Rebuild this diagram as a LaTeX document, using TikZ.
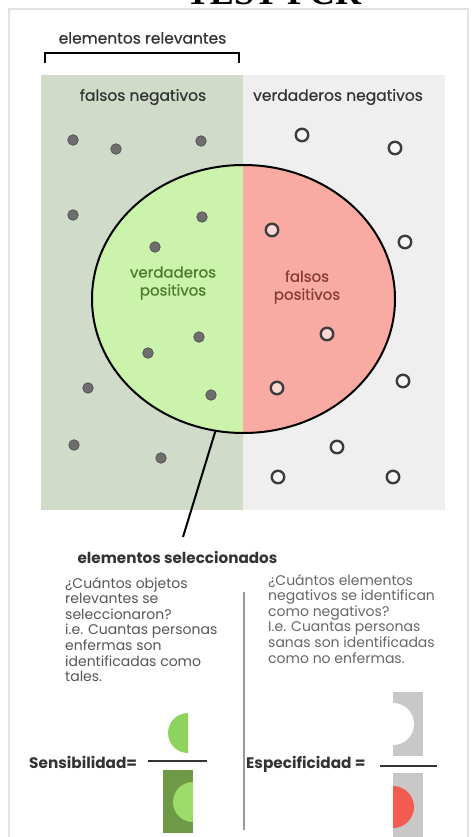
\documentclass[tikz,border=0pt]{standalone}
\usepackage{fontspec}
\setmainfont{Poppins}
\newfontfamily\lblfont[FakeBold=0.6]{Poppins}
\newfontfamily\titlefont{Liberation Serif}
\usetikzlibrary{shapes.geometric}
\definecolor{framec}{HTML}{E2E2E2}
\definecolor{greenpanel}{HTML}{D0DCC9}
\definecolor{graypanel}{HTML}{EFEFEF}
\definecolor{tpgreen}{HTML}{CCF3AC}
\definecolor{fppink}{HTML}{F9AAA3}
\definecolor{dotc}{HTML}{6E6E6E}
\definecolor{dotring}{HTML}{555555}
\definecolor{ringc}{HTML}{3C3C3C}
\definecolor{txtdark}{HTML}{333333}
\definecolor{txtgreen}{HTML}{4C7A2C}
\definecolor{txtred}{HTML}{8A3A35}
\definecolor{qtxt}{HTML}{555555}
\definecolor{qtxtr}{HTML}{666666}
\definecolor{numgreen}{HTML}{8ED35E}
\definecolor{dengreen}{HTML}{6E9A48}
\definecolor{ingreen}{HTML}{9CDC6A}
\definecolor{rectgray}{HTML}{C8C8C8}
\definecolor{redhalf}{HTML}{F25C50}
\tikzset{
  fdot/.style={circle, fill=dotc, draw=dotring, line width=0.8pt, minimum size=10.5pt, inner sep=0pt},
  odot/.style={circle, fill=white, fill opacity=0.55, draw=ringc, draw opacity=1, line width=2.4pt, minimum size=12.5pt, inner sep=0pt},
  lbl/.style={font=\lblfont\fontsize{15.5}{18}\selectfont, text=txtdark, inner sep=0pt},
  qtext/.style={font=\fontsize{14}{15.6}\selectfont, align=left, inner sep=0pt, anchor=north west},
  eqlbl/.style={font=\bfseries\fontsize{15.3}{17}\selectfont, text=txtdark, inner sep=0pt, anchor=west},
  fracline/.style={line width=1.6pt, draw=txtdark},
}
\begin{document}
\begin{tikzpicture}[x=1pt,y=-1pt]
\useasboundingbox (0,0) rectangle (472,837);
% frame
\draw[framec, line width=2pt] (9,9) rectangle (468,850);
% title
\node[anchor=base, font=\titlefont\bfseries\fontsize{36}{36}\selectfont, inner sep=0pt] (title) at (273.5,5) {TEST PCR};
% bracket
\node[lbl] (relev) at (142.5,38) {elementos relevantes};
\draw[line width=2pt, black] (45,63) -- (45,53) -- (239,53) -- (239,63);
% panels
\fill[greenpanel] (41,75) rectangle (243,510);
\fill[graypanel] (243,75) rectangle (445,510);
\node[lbl] (fn) at (143,97) {falsos negativos};
\node[lbl] (vn) at (338,97) {verdaderos negativos};
% ellipse
\begin{scope}
  \clip (243.5,299) ellipse[x radius=151.5, y radius=134];
  \fill[tpgreen] (80,150) rectangle (243,450);
  \fill[fppink] (243,150) rectangle (410,450);
\end{scope}
\node[ellipse, minimum width=303pt, minimum height=268pt, inner sep=0pt, outer sep=0pt, draw=black, line width=2pt] (sel) at (243.5,299) {};
\node[lbl, text=txtgreen, align=center, font=\lblfont\fontsize{15}{18}\selectfont] (vp) at (173,283) {verdaderos\\positivos};
\node[lbl, text=txtred, align=center, font=\lblfont\fontsize{15}{18}\selectfont] (fp) at (307,287) {falsos\\positivos};
% filled dots
\node[fdot] (d1) at (73,140) {};
\node[fdot] (d2) at (116,149) {};
\node[fdot] (d3) at (201,141) {};
\node[fdot] (d4) at (73,215) {};
\node[fdot] (d5) at (202,217) {};
\node[fdot] (d6) at (155,247) {};
\node[fdot] (d7) at (199,337) {};
\node[fdot] (d8) at (148,353) {};
\node[fdot] (d9) at (88,388) {};
\node[fdot] (d10) at (211,395) {};
\node[fdot] (d11) at (74,445) {};
\node[fdot] (d12) at (161,458) {};
% open circles
\node[odot] (o1) at (302,135) {};
\node[odot] (o2) at (395,148) {};
\node[odot] (o3) at (272,230) {};
\node[odot] (o4) at (405,242) {};
\node[odot] (o5) at (327,334) {};
\node[odot] (o6) at (277,388) {};
\node[odot] (o7) at (403,381) {};
\node[odot] (o8) at (337,447) {};
\node[odot] (o9) at (278,477) {};
\node[odot] (o10) at (393,477) {};
% selected label
\node[font=\bfseries\fontsize{15.2}{17}\selectfont, text=txtdark, inner sep=0pt] (lsel) at (177.5,557) {elementos seleccionados};
\coordinate (selend) at (183,537);
\draw[line width=2pt, black] (sel.258) -- (selend);
% questions
\node[qtext, text=qtxt] (q1) at (65,577) {¿Cuántos objetos\\relevantes se\\seleccionaron?\\i.e. Cuantas personas\\enfermas son\\identificadas como\\tales.};
\node[qtext, text=qtxtr] (q2) at (268,574) {¿Cuántos elementos\\negativos se identifican\\como negativos?\\I.e. Cuantas personas\\sanas son identificadas\\como no enfermas.};
\draw[line width=1.2pt, gray!80] (244,592) -- (244,830);
% sensibilidad
\node[eqlbl] (sens) at (29,762) {Sensibilidad=};
\draw[fracline] (148,761) -- (207,761);
\begin{scope}
  \clip (160,700) rectangle (188,770);
  \fill[numgreen] (188,733) circle[radius=20];
\end{scope}
\fill[dengreen] (163,770) rectangle (193,833);
\begin{scope}
  \clip (163,770) rectangle (193,833);
  \fill[ingreen] (193,802) circle[radius=20];
\end{scope}
% especificidad
\node[eqlbl] (espe) at (246,764) {Especificidad =};
\draw[fracline] (380,766) -- (437,766);
\fill[rectgray] (393,692) rectangle (423,756);
\begin{scope}
  \clip (393,692) rectangle (423,756);
  \fill[white] (393,724) circle[radius=21];
\end{scope}
\fill[rectgray] (393,773) rectangle (423,850);
\begin{scope}
  \clip (393,773) rectangle (423,850);
  \fill[redhalf] (393,807) circle[radius=21];
\end{scope}
\end{tikzpicture}
\end{document}
